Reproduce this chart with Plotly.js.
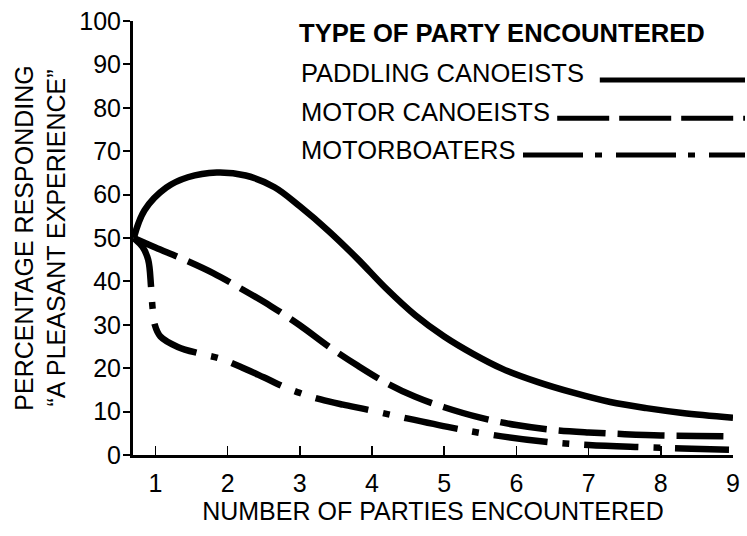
<!DOCTYPE html>
<html>
<head>
<meta charset="utf-8">
<script src="https://cdn.plot.ly/plotly-3.0.1.min.js"></script>
<style>
  html, body { margin: 0; padding: 0; background: #fff; }
  #chart { width: 747px; height: 536px; }
</style>
</head>
<body>
<div id="chart"></div>
<script>
// ---- data ----
const seriesNames = ["PADDLING CANOEISTS", "MOTOR CANOEISTS", "MOTORBOATERS"];
const legendTitle = "TYPE OF PARTY ENCOUNTERED";

const paddlingX = [0.70, 0.85, 1.15, 1.45, 1.85, 2.25, 2.65, 3.0, 3.4, 3.8, 4.2, 4.6, 5.0, 5.4, 5.8, 6.3, 6.8, 7.3, 7.8, 8.3, 9.0];
const paddlingY = [50, 56.4, 61.6, 64.0, 65.1, 64.4, 61.7, 57.3, 51.6, 45.2, 38.3, 32.2, 27.3, 23.3, 19.9, 16.8, 14.3, 12.2, 10.8, 9.7, 8.6];

const motorCanoeX = [0.70, 1.0, 1.4, 1.8, 2.2, 2.6, 3.0, 3.4, 3.8, 4.2, 4.6, 5.0, 5.5, 6.0, 6.5, 7.0, 7.5, 8.0, 8.5, 9.0];
const motorCanoeY = [50, 47.8, 45.0, 41.9, 38.2, 34.3, 29.9, 25.0, 20.6, 16.6, 13.4, 11.0, 8.6, 6.9, 5.8, 5.2, 4.8, 4.5, 4.4, 4.3];

const motorboatX = [0.70, 0.82, 0.90, 0.94, 0.96, 0.99, 1.07, 1.31, 1.63, 1.90, 2.17, 2.50, 2.77, 3.0, 3.29, 3.6, 3.92, 4.41, 5.10, 5.64, 6.37, 7.0, 7.75, 8.3, 9.0];
const motorboatY = [50, 48.0, 45.0, 38.8, 34.1, 30.1, 27.3, 24.9, 23.3, 22.2, 20.4, 17.9, 15.8, 14.3, 12.8, 11.6, 10.5, 8.7, 6.3, 4.7, 3.1, 2.3, 1.8, 1.5, 1.2];

const xTickVals = [1, 2, 3, 4, 5, 6, 7, 8, 9];
const yTickVals = [0, 10, 20, 30, 40, 50, 60, 70, 80, 90, 100];

const xTitle = "NUMBER OF PARTIES ENCOUNTERED";
const yTitle = "PERCENTAGE RESPONDING<br>\u201CA PLEASANT EXPERIENCE\u201D";

// ---- styling ----
const FONT = "Liberation Sans, Arial, Helvetica, sans-serif";
const dashStyles = ["solid", "47px,12px", "54px,15px,7px,15px"];
const legendDash = ["solid", "52px,10px", "60px,12px,7px,14px"];

const xs = [paddlingX, motorCanoeX, motorboatX];
const ys = [paddlingY, motorCanoeY, motorboatY];

const traces = seriesNames.map((n, i) => ({
  type: "scatter",
  mode: "lines",
  name: n,
  x: xs[i],
  y: ys[i],
  line: { color: "#000", width: 6.5, shape: "spline", smoothing: 1, dash: dashStyles[i] },
  hoverinfo: "skip"
}));

// legend drawn manually (text left, line right, as in the reference)
const legendRowsY = [0.880, 0.790, 0.703];
const legendTextX = 0.277;
const legendLineStart = [0.778, 0.707, 0.650];
const legendLineY = [0.864, 0.776, 0.691];

const annotations = [
  { xref: "paper", yref: "paper", x: 0.274, y: 0.972, xanchor: "left", yanchor: "middle",
    text: "<b>" + legendTitle + "</b>", showarrow: false, font: { family: FONT, size: 25.6, color: "#000" } }
].concat(seriesNames.map((n, i) => ({
  xref: "paper", yref: "paper", x: legendTextX, y: legendRowsY[i], xanchor: "left", yanchor: "middle",
  text: n, showarrow: false, font: { family: FONT, size: 25.5, color: "#000" }
})));

const shapes = seriesNames.map((n, i) => ({
  type: "line", xref: "paper", yref: "paper",
  x0: legendLineStart[i], x1: 1.02, y0: legendLineY[i], y1: legendLineY[i],
  line: { color: "#000", width: 5, dash: legendDash[i] }
}));

const layout = {
  width: 747,
  height: 536,
  margin: { l: 133, r: 14, t: 21, b: 81 },
  paper_bgcolor: "#fff",
  plot_bgcolor: "#fff",
  showlegend: false,
  font: { family: FONT, color: "#000" },
  xaxis: {
    range: [0.69, 9.0],
    tickmode: "array",
    tickvals: xTickVals,
    ticktext: xTickVals.map(String),
    ticks: "inside",
    ticklen: 9,
    tickwidth: 1.5,
    tickcolor: "#000",
    showline: true,
    linecolor: "#000",
    linewidth: 3,
    showgrid: false,
    zeroline: false,
    ticklabelstandoff: 4,
    tickfont: { family: FONT, size: 25, color: "#000" },
    title: { text: xTitle, font: { family: FONT, size: 25, color: "#000" }, standoff: 5 }
  },
  yaxis: {
    range: [0, 100],
    tickmode: "array",
    tickvals: yTickVals,
    ticktext: yTickVals.map(String),
    ticks: "outside",
    ticklen: 7,
    tickwidth: 2,
    tickcolor: "#000",
    showline: true,
    linecolor: "#000",
    linewidth: 3,
    showgrid: false,
    zeroline: false,
    ticklabelstandoff: -3,
    tickfont: { family: FONT, size: 25, color: "#000" },
    title: { text: yTitle, font: { family: FONT, size: 25, color: "#000" }, standoff: 7 }
  },
  annotations: annotations,
  shapes: shapes
};

Plotly.newPlot("chart", traces, layout, { displayModeBar: false, staticPlot: true });
</script>
</body>
</html>
